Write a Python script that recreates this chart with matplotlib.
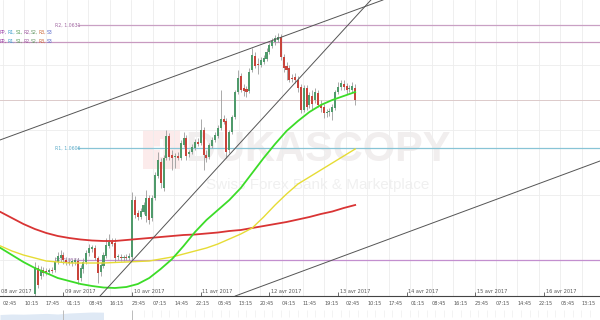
import numpy as np
import matplotlib
matplotlib.use("Agg")
import matplotlib.pyplot as plt
import matplotlib.transforms as mtransforms
from matplotlib.patches import Rectangle

# EUR/USD hourly candles, time in hours from 08 avr 2017 00:00
first_hour = 14
opens = [1.05772, 1.05824, 1.05808, 1.05820, 1.05818, 1.05816, 1.05820, 1.05820, 1.05836, 1.05844,
         1.05850, 1.05840, 1.05836, 1.05834, 1.05836, 1.05838, 1.05804, 1.05822, 1.05836, 1.05854,
         1.05862, 1.05864, 1.05844, 1.05816, 1.05828, 1.05848, 1.05868, 1.05876, 1.05874, 1.05846,
         1.05846, 1.05844, 1.05846, 1.05844, 1.05846, 1.05960, 1.05934, 1.05926, 1.05936, 1.05928,
         1.05964, 1.05924, 1.05964, 1.06008, 1.06036, 1.05984, 1.06044, 1.06088, 1.06050, 1.06046,
         1.06048, 1.06044, 1.06070, 1.06084, 1.06052, 1.06056, 1.06064, 1.06076, 1.06074, 1.06100,
         1.06050, 1.06046, 1.06068, 1.06080, 1.06088, 1.06104, 1.06122, 1.06118, 1.06060, 1.06096,
         1.06126, 1.06176, 1.06208, 1.06184, 1.06182, 1.06178, 1.06220, 1.06248, 1.06232, 1.06230,
         1.06236, 1.06242, 1.06256, 1.06268, 1.06276, 1.06280, 1.06286, 1.06246, 1.06228, 1.06224,
         1.06204, 1.06206, 1.06200, 1.06186, 1.06140, 1.06184, 1.06150, 1.06168, 1.06160, 1.06174,
         1.06150, 1.06146, 1.06134, 1.06136, 1.06136, 1.06144, 1.06176, 1.06186, 1.06192, 1.06188,
         1.06182, 1.06180, 1.06184]
highs = [1.05836, 1.05830, 1.05828, 1.05826, 1.05824, 1.05824, 1.05826, 1.05846, 1.05856, 1.05860,
         1.05856, 1.05846, 1.05844, 1.05842, 1.05844, 1.05844, 1.05830, 1.05844, 1.05860, 1.05872,
         1.05870, 1.05870, 1.05848, 1.05836, 1.05856, 1.05884, 1.05892, 1.05884, 1.05884, 1.05852,
         1.05852, 1.05850, 1.05852, 1.05854, 1.05976, 1.05968, 1.05940, 1.05944, 1.05956, 1.05980,
         1.05970, 1.05970, 1.06016, 1.06056, 1.06044, 1.06050, 1.06100, 1.06094, 1.06060, 1.06054,
         1.06056, 1.06080, 1.06096, 1.06090, 1.06060, 1.06072, 1.06082, 1.06084, 1.06122, 1.06106,
         1.06060, 1.06074, 1.06086, 1.06096, 1.06110, 1.06180, 1.06130, 1.06124, 1.06100, 1.06130,
         1.06180, 1.06220, 1.06214, 1.06192, 1.06188, 1.06224, 1.06264, 1.06256, 1.06244, 1.06246,
         1.06250, 1.06264, 1.06274, 1.06284, 1.06290, 1.06294, 1.06292, 1.06252, 1.06236, 1.06230,
         1.06212, 1.06214, 1.06208, 1.06192, 1.06190, 1.06190, 1.06176, 1.06180, 1.06184, 1.06180,
         1.06160, 1.06152, 1.06142, 1.06144, 1.06152, 1.06180, 1.06196, 1.06200, 1.06200, 1.06194,
         1.06190, 1.06196, 1.06192]
lows = [1.05760, 1.05784, 1.05802, 1.05808, 1.05810, 1.05812, 1.05814, 1.05816, 1.05832, 1.05836,
        1.05832, 1.05830, 1.05830, 1.05828, 1.05830, 1.05792, 1.05798, 1.05814, 1.05832, 1.05848,
        1.05856, 1.05840, 1.05794, 1.05808, 1.05824, 1.05844, 1.05864, 1.05868, 1.05836, 1.05840,
        1.05838, 1.05838, 1.05840, 1.05840, 1.05840, 1.05924, 1.05920, 1.05922, 1.05932, 1.05916,
        1.05912, 1.05918, 1.05960, 1.06004, 1.05984, 1.05978, 1.06040, 1.06040, 1.06020, 1.06024,
        1.06040, 1.06040, 1.06066, 1.06040, 1.06046, 1.06052, 1.06060, 1.06068, 1.06070, 1.06020,
        1.06036, 1.06042, 1.06064, 1.06076, 1.06084, 1.06100, 1.06112, 1.06044, 1.06054, 1.06092,
        1.06122, 1.06172, 1.06176, 1.06168, 1.06166, 1.06174, 1.06216, 1.06224, 1.06212, 1.06226,
        1.06232, 1.06238, 1.06252, 1.06264, 1.06270, 1.06276, 1.06240, 1.06216, 1.06200, 1.06196,
        1.06196, 1.06194, 1.06176, 1.06134, 1.06136, 1.06140, 1.06144, 1.06140, 1.06154, 1.06146,
        1.06136, 1.06124, 1.06126, 1.06128, 1.06120, 1.06140, 1.06172, 1.06180, 1.06180, 1.06172,
        1.06176, 1.06176, 1.06150]
closes = [1.05826, 1.05790, 1.05820, 1.05814, 1.05816, 1.05820, 1.05818, 1.05836, 1.05848, 1.05850,
          1.05840, 1.05836, 1.05834, 1.05838, 1.05840, 1.05800, 1.05824, 1.05836, 1.05854, 1.05864,
          1.05866, 1.05844, 1.05814, 1.05830, 1.05850, 1.05870, 1.05876, 1.05872, 1.05844, 1.05848,
          1.05844, 1.05846, 1.05844, 1.05848, 1.05960, 1.05930, 1.05926, 1.05938, 1.05950, 1.05964,
          1.05920, 1.05964, 1.06010, 1.06040, 1.05994, 1.06044, 1.06088, 1.06046, 1.06044, 1.06048,
          1.06044, 1.06074, 1.06084, 1.06048, 1.06056, 1.06066, 1.06076, 1.06072, 1.06100, 1.06050,
          1.06044, 1.06070, 1.06080, 1.06090, 1.06104, 1.06122, 1.06116, 1.06056, 1.06096, 1.06126,
          1.06176, 1.06204, 1.06180, 1.06178, 1.06176, 1.06216, 1.06250, 1.06228, 1.06230, 1.06240,
          1.06244, 1.06256, 1.06270, 1.06278, 1.06284, 1.06286, 1.06246, 1.06224, 1.06220, 1.06200,
          1.06202, 1.06200, 1.06184, 1.06140, 1.06184, 1.06146, 1.06170, 1.06152, 1.06176, 1.06150,
          1.06144, 1.06134, 1.06136, 1.06138, 1.06146, 1.06176, 1.06186, 1.06194, 1.06186, 1.06180,
          1.06184, 1.06188, 1.06160]

# moving averages, one value every 4 hours
ma_hours = list(range(2, 127, 4))
ma_green = [1.05864, 1.05850, 1.05836, 1.05824, 1.05814, 1.05804, 1.05798, 1.05792, 1.05788, 1.05785,
            1.05784, 1.05786, 1.05792, 1.05804, 1.05822, 1.05842, 1.05868, 1.05896, 1.05920, 1.05940,
            1.05960, 1.05984, 1.06014, 1.06044, 1.06072, 1.06098, 1.06118, 1.06136, 1.06150, 1.06160,
            1.06168, 1.06176]
ma_yellow = [1.05868, 1.05858, 1.05850, 1.05844, 1.05838, 1.05836, 1.05834, 1.05834, 1.05834, 1.05834,
             1.05835, 1.05836, 1.05837, 1.05838, 1.05842, 1.05846, 1.05852, 1.05858, 1.05864, 1.05872,
             1.05882, 1.05892, 1.05904, 1.05926, 1.05950, 1.05972, 1.05992, 1.06006, 1.06020, 1.06034,
             1.06048, 1.06062]
ma_red = [1.05936, 1.05924, 1.05912, 1.05902, 1.05894, 1.05888, 1.05884, 1.05881, 1.05879, 1.05878,
          1.05878, 1.05880, 1.05882, 1.05884, 1.05886, 1.05888, 1.05890, 1.05891, 1.05893, 1.05895,
          1.05898, 1.05900, 1.05904, 1.05908, 1.05912, 1.05916, 1.05921, 1.05926, 1.05932, 1.05937,
          1.05944, 1.05950]

# pivot levels
pivot_names = ["R2", "R1", "PP"]
pivot_values = [1.0631, 1.06064, 1.0584]
pivot_start = 28.7
old_pivot = 1.06276
mid_level = 1.0616
pivot_words = ["PP,", "R1,", "S1,", "R2,", "S2,", "R3,", "S3"]

# hand drawn channel lines (hour, price)
channel_top = [(1.8, 1.0608), (135.7, 1.0636)]
channel_mid = [(36.8, 1.05768), (131.5, 1.0636)]
channel_low = [(82.2, 1.05764), (211.6, 1.06038)]

green = '#4f9a6b'
red = '#c8443b'

fig = plt.figure(figsize=(6, 3.2), dpi=100)
ax = fig.add_axes([0, 24 / 320, 1, 296 / 320])
ax.set_xlim(1.82, 211.6)
ax.set_ylim(1.05768, 1.0636)

# time ticks every 7.5 hours, grid on them
time_ticks = [2.75 + 7.5 * k for k in range(28)]
time_labels = ["%02d:%02d" % (int(h % 24), round((h % 1) * 60)) for h in time_ticks]
ax.set_xticks(time_ticks)
ax.set_xticklabels(time_labels, ha='left')
ax.set_yticks([1.0623, 1.0610, 1.0597, 1.0584])
ax.grid(True, color='#ededed', lw=0.6, zorder=0)
ax.tick_params(axis='x', length=0, labelsize=3.6, pad=3.5, labelcolor='#555555')
ax.tick_params(axis='y', left=False, labelleft=False)
for s in ['top', 'left', 'right']:
    ax.spines[s].set_visible(False)
ax.spines['bottom'].set_color('#444444')
ax.spines['bottom'].set_linewidth(0.8)

# date labels above the axis line
bt = mtransforms.blended_transform_factory(ax.transData, ax.transAxes)
date_hours = [24 * k for k in range(1, 9)]
ax.vlines(date_hours, 0, 0.014, transform=bt, color='#555555', lw=0.6, clip_on=False)
for k, h in enumerate(date_hours):
    ax.annotate("%02d avr 2017" % (9 + k), xy=(h, 0), xycoords=bt, xytext=(1.2, 1.5),
                textcoords='offset points', fontsize=3.6, color='#555555', ha='left', va='bottom')
ax.annotate("08 avr 2017", xy=(0, 0), xycoords='axes fraction', xytext=(0.5, 1.5),
            textcoords='offset points', fontsize=3.6, color='#555555', ha='left', va='bottom')

# watermark
ax.add_patch(Rectangle((0.238, 0.43), 0.062, 0.13, transform=ax.transAxes,
                       facecolor='#fcebeb', edgecolor='none', zorder=1))
ax.text(0.269, 0.495, "+", transform=ax.transAxes, fontsize=20, color='white',
        ha='center', va='center', fontweight='bold', zorder=1)
ax.text(0.53, 0.492, "DUKASCOPY", transform=ax.transAxes, fontsize=30, fontweight='bold',
        family='Liberation Sans', color='#f1eeee', ha='center', va='center', zorder=1)
ax.text(0.53, 0.375, "Swiss Forex Bank & Marketplace", transform=ax.transAxes, fontsize=11,
        family='Liberation Sans', color='#f0f0f0', ha='center', va='center', zorder=1)

# horizontal levels
ax.axhline(mid_level, color='#dccaca', lw=0.7, zorder=2)
ax.axhline(old_pivot, color='#c89ac0', lw=0.9, zorder=2)
ax.hlines(pivot_values[0], pivot_start, 211.6, color='#c9a0c4', lw=0.9, zorder=2)
ax.hlines(pivot_values[1], pivot_start, 211.6, color='#88c4d6', lw=0.9, zorder=2)
ax.hlines(pivot_values[2], pivot_start, 211.6, color='#c38fcf', lw=0.9, zorder=2)
label_colors = ['#a066a0', '#5aaac8', '#a070b0']
for name, v, col in zip(pivot_names, pivot_values, label_colors):
    ax.annotate("%s, %.4f" % (name, v), xy=(21, v), xytext=(0, 0), textcoords='offset points',
                fontsize=3.3, color=col, ha='left', va='center', zorder=2)

word_colors = ['#9b3fa8', '#3b9ccc', '#5aa05a', '#a05aa0', '#6a9a6a', '#cc6a3a', '#5a6acc']
lt = mtransforms.blended_transform_factory(ax.transAxes, ax.transData)
for v in [1.06294, old_pivot]:
    for k, (w, col) in enumerate(zip(pivot_words, word_colors)):
        ax.annotate(w, xy=(0, v), xycoords=lt, xytext=(k * 5.6, 0.6), textcoords='offset points',
                    fontsize=3.3, color=col, ha='left', va='center', zorder=2)

# channel lines
for line in [channel_top, channel_mid, channel_low]:
    ax.axline(line[0], line[1], color='#555555', lw=0.7, zorder=6)

# moving averages
ax.plot(ma_hours, ma_red, color='#d93434', lw=1.3, zorder=5)
ax.plot(ma_hours, ma_yellow, color='#e6dc35', lw=1.0, zorder=5)
ax.plot(ma_hours, ma_green, color='#3cdc28', lw=1.3, zorder=5)

# candles
t = first_hour + np.arange(len(opens))
o = np.array(opens)
c = np.array(closes)
up = c >= o
ax.vlines(t, lows, highs, color='#9c9c9c', lw=0.6, zorder=3)
body = np.maximum(np.abs(c - o), 0.00003)
ax.bar(t[up], body[up], bottom=o[up], width=0.72, color=green, zorder=4)
ax.bar(t[~up], body[~up], bottom=c[~up], width=0.72, color=red, zorder=4)

# navigator strip at the bottom
nav = fig.add_axes([0, 0, 1, 10 / 320])
nav.set_xlim(1.82, 211.6)
nav.set_ylim(0, 1)
nav_hours = [1.82, 6, 10, 14, 18, 22, 26, 30, 34, 38]
nav_vals = [0.55, 0.6, 0.58, 0.62, 0.66, 0.6, 0.7, 0.75, 0.8, 0.78]
nav.fill_between(nav_hours, 0, nav_vals, color='#dfe9f5', lw=0)
nav.vlines([24, 48], 0, 1, color='#bbbbbb', lw=0.7)
nav.vlines(np.arange(52, 211, 3.0), 0.3, 1, color='#eeeeee', lw=0.5)
nav.axis('off')

plt.savefig("out.png", dpi=100)
